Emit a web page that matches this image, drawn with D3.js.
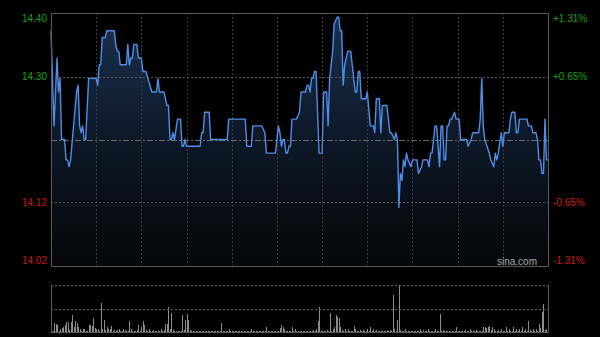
<!DOCTYPE html>
<html>
<head>
	<meta charset="utf-8">
	<title>Intraday</title>
	<script type="text/javascript" src="https://cdn.jsdelivr.net/npm/d3@7"></script>
	<style>
		body {
			margin: 0;
			background: #000;
		}
	</style>
</head>

<body>

	<div id="chart"></div>

	<script>

		// data: minutes since open (9:30, lunch removed) and price
		const times = [0,2,4,5,6,7,9,10,11,12,13,17,18,19,20,21,22,23,25,30,31,32,33,34,36,37,42,43,44,45,46,50,51,52,53,54,55,57,58,60,61,63,67,70,71,72,75,77,78,79,80,81,82,84,86,87,88,89,90,99,100,101,102,105,106,117,118,129,130,133,134,140,142,143,149,151,152,153,154,155,156,157,158,159,160,163,165,166,169,170,171,172,173,174,175,176,178,180,181,183,184,185,187,188,190,191,192,193,194,195,197,199,200,202,203,204,205,206,209,210,212,214,215,216,218,219,220,223,225,226,228,229,230,231,232,233,234,235,236,237,239,240,243,244,246,247,250,251,252,253,254,255,256,258,259,260,261,262,263,264,265,266,268,269,271,272,276,277,279,280,284,285,286,287,288,291,292,294,295,296,297,299,300,301,304,305,306,308,309,310,311,316,317,319,320,322,323,324,325,326,327,328,329,330];
		const prices = [14.37,14.23,14.33,14.28,14.30,14.21,14.21,14.18,14.18,14.17,14.18,14.28,14.29,14.23,14.22,14.23,14.21,14.21,14.30,14.30,14.29,14.32,14.32,14.36,14.36,14.37,14.37,14.35,14.34,14.34,14.32,14.32,14.35,14.32,14.33,14.33,14.35,14.35,14.33,14.33,14.31,14.31,14.28,14.28,14.30,14.28,14.28,14.26,14.26,14.21,14.21,14.22,14.21,14.24,14.24,14.20,14.20,14.21,14.20,14.20,14.22,14.22,14.25,14.25,14.21,14.21,14.24,14.24,14.20,14.20,14.23,14.23,14.22,14.19,14.19,14.23,14.22,14.20,14.21,14.21,14.19,14.19,14.20,14.20,14.24,14.24,14.25,14.28,14.28,14.29,14.29,14.28,14.30,14.30,14.31,14.31,14.19,14.19,14.28,14.28,14.23,14.30,14.34,14.38,14.39,14.39,14.37,14.37,14.29,14.32,14.34,14.34,14.32,14.28,14.28,14.31,14.31,14.27,14.27,14.28,14.23,14.23,14.22,14.27,14.27,14.22,14.26,14.26,14.22,14.22,14.21,14.22,14.21,14.11,14.16,14.15,14.18,14.17,14.19,14.18,14.17,14.18,14.18,14.16,14.17,14.18,14.18,14.17,14.19,14.19,14.21,14.23,14.23,14.17,14.23,14.23,14.18,14.18,14.23,14.23,14.24,14.24,14.25,14.24,14.24,14.21,14.21,14.20,14.21,14.22,14.22,14.24,14.30,14.23,14.21,14.19,14.18,14.17,14.19,14.18,14.19,14.22,14.20,14.22,14.22,14.24,14.25,14.25,14.22,14.22,14.24,14.24,14.23,14.23,14.22,14.22,14.21,14.18,14.18,14.16,14.16,14.24,14.18,14.18];

		// volume per minute, 0..330
		const volume = [
			137, 12, 87, 80, 70, 12, 27, 37, 53, 70,
			103, 103, 20, 103, 167, 47, 110, 87, 47, 33,
			15, 27, 33, 15, 15, 70, 70, 60, 137, 37,
			27, 27, 15, 287, 33, 120, 20, 47, 33, 27,
			60, 15, 20, 12, 20, 27, 13, 12, 33, 12,
			20, 12, 110, 33, 12, 13, 12, 20, 70, 15,
			47, 110, 70, 20, 13, 27, 12, 13, 20, 12,
			13, 12, 13, 27, 12, 20, 80, 80, 247, 27,
			193, 20, 12, 13, 12, 12, 13, 170, 20, 120,
			177, 120, 20, 10, 12, 10, 8, 10, 12, 10,
			10, 12, 10, 8, 10, 12, 10, 10, 12, 10,
			8, 10, 12, 93, 10, 12, 10, 8, 33, 10,
			12, 10, 8, 10, 12, 10, 10, 12, 10, 8,
			10, 12, 10, 27, 10, 12, 10, 8, 10, 12,
			10, 10, 12, 53, 10, 12, 10, 8, 10, 12,
			10, 12, 37, 70, 53, 27, 10, 12, 10, 8,
			53, 12, 27, 10, 12, 10, 13, 10, 12, 10,
			8, 10, 13, 10, 20, 12, 27, 110, 247, 12,
			13, 10, 12, 20, 12, 193, 12, 27, 47, 170,
			147, 137, 47, 20, 12, 27, 12, 33, 10, 12,
			10, 60, 27, 12, 10, 20, 10, 20, 10, 12,
			27, 10, 47, 12, 27, 10, 20, 10, 12, 10,
			13, 10, 12, 20, 10, 20, 15, 370, 27, 15,
			120, 470, 20, 12, 10, 33, 10, 12, 13, 10,
			12, 10, 13, 10, 12, 33, 10, 20, 10, 12,
			27, 10, 12, 13, 10, 33, 10, 12, 180, 10,
			20, 10, 12, 10, 12, 13, 10, 12, 10, 47,
			10, 12, 13, 10, 12, 20, 10, 12, 33, 10,
			12, 10, 20, 10, 12, 10, 13, 47, 53, 37,
			47, 60, 20, 53, 27, 12, 10, 20, 10, 27,
			12, 10, 47, 12, 27, 10, 12, 53, 10, 27,
			12, 33, 10, 47, 12, 27, 12, 113, 20, 10,
			27, 12, 27, 15, 80, 37, 203, 280, 20, 27,
			15
		];

		const prevClose = 14.21;
		const tickPct = [0.0131, 0.0065, -0.0065, -0.0131];
		const priceLabels = ["14.40", "14.30", "14.12", "14.02"];
		const pctLabels = ["+1.31%", "+0.65%", "-0.65%", "-1.31%"];
		const gridMinutes = [30, 60, 90, 120, 150, 180, 210, 240, 270, 300];

		const width = 600;
		const height = 337;
		const pLeft = 51, pRight = 548;
		const pTop = 13, pBottom = 266;
		const vTop = 285, vBottom = 332;

		const svg = d3.select("#chart")
			.append("svg")
			.attr("width", width)
			.attr("height", height)
			.style("display", "block")
			.attr("font-family", "Liberation Sans, Arial, sans-serif")
			.attr("font-size", 10);

		svg.append("rect").attr("width", width).attr("height", height).attr("fill", "#000");

		const x = d3.scaleLinear().domain([0, 330]).range([pLeft, pRight]);
		const y = d3.scaleLinear()
			.domain([prevClose * (1 - 0.0131), prevClose * (1 + 0.0131)])
			.range([pBottom, pTop]);
		const yv = d3.scaleLinear().domain([0, d3.max(volume)]).range([vBottom, vTop]);

		// area gradient
		const grad = svg.append("defs").append("linearGradient")
			.attr("id", "fillGrad")
			.attr("gradientUnits", "userSpaceOnUse")
			.attr("x1", 0).attr("x2", 0).attr("y1", pTop).attr("y2", pBottom);
		grad.append("stop").attr("offset", 0).attr("stop-color", "#1a3150");
		grad.append("stop").attr("offset", 0.5).attr("stop-color", "#0d1828");
		grad.append("stop").attr("offset", 1).attr("stop-color", "#050608");

		const pts = times.map((t, i) => [t, prices[i]]);

		svg.append("path")
			.datum(pts)
			.attr("fill", "url(#fillGrad)")
			.attr("d", d3.area().x(d => x(d[0])).y0(pBottom).y1(d => y(d[1])));

		// grid
		const grid = svg.append("g").attr("shape-rendering", "crispEdges");
		grid.selectAll(".vg")
			.data(gridMinutes)
			.join("line")
			.attr("x1", d => Math.round(x(d)) + 0.5).attr("x2", d => Math.round(x(d)) + 0.5)
			.attr("y1", pTop).attr("y2", pBottom)
			.attr("stroke", "#3c3c3c")
			.attr("stroke-dasharray", "2,2");

		grid.selectAll(".hg")
			.data([tickPct[1], tickPct[2]])
			.join("line")
			.attr("x1", pLeft).attr("x2", pRight)
			.attr("y1", d => Math.round(y(prevClose * (1 + d))) + 0.5)
			.attr("y2", d => Math.round(y(prevClose * (1 + d))) + 0.5)
			.attr("stroke", "#555")
			.attr("stroke-dasharray", "2,2");

		grid.append("line")
			.attr("x1", pLeft).attr("x2", pRight)
			.attr("y1", Math.round(y(prevClose)) + 0.5).attr("y2", Math.round(y(prevClose)) + 0.5)
			.attr("stroke", "#6a6a6a")
			.attr("stroke-dasharray", "6,2,2,2");

		// price line
		svg.append("path")
			.datum(pts)
			.attr("fill", "none")
			.attr("stroke", "#4f8ee6")
			.attr("stroke-width", 1.4)
			.attr("stroke-linejoin", "round")
			.attr("d", d3.line().x(d => x(d[0])).y(d => y(d[1])));

		// frame
		svg.append("rect")
			.attr("x", pLeft + 0.5).attr("y", pTop + 0.5)
			.attr("width", pRight - pLeft).attr("height", pBottom - pTop)
			.attr("fill", "none")
			.attr("stroke", "#5a5a5a")
			.attr("shape-rendering", "crispEdges");

		// labels
		const dy = [0.35 + 0.55, 0.35, 0.35, 0.35 - 0.6];
		svg.selectAll(".pl")
			.data(tickPct)
			.join("text")
			.attr("x", 47)
			.attr("y", d => y(prevClose * (1 + d)))
			.attr("dy", (d, i) => dy[i] + "em")
			.attr("text-anchor", "end")
			.attr("fill", d => d > 0 ? "#16a016" : "#d01818")
			.text((d, i) => priceLabels[i]);

		svg.selectAll(".rl")
			.data(tickPct)
			.join("text")
			.attr("x", 553)
			.attr("y", d => y(prevClose * (1 + d)))
			.attr("dy", (d, i) => dy[i] + "em")
			.attr("fill", d => d > 0 ? "#16a016" : "#d01818")
			.text((d, i) => pctLabels[i]);

		svg.append("text")
			.attr("x", 537).attr("y", 264.5)
			.attr("text-anchor", "end")
			.attr("fill", "#a8a8a8")
			.text("sina.com");

		// volume panel
		const vp = svg.append("g").attr("shape-rendering", "crispEdges");
		vp.selectAll("rect")
			.data(volume)
			.join("rect")
			.attr("x", (d, i) => Math.round(x(i)))
			.attr("width", 1)
			.attr("y", d => yv(d))
			.attr("height", d => vBottom - yv(d))
			.attr("fill", "#8c8c8c");

		vp.selectAll(".vl")
			.data([vTop, (vTop + vBottom) / 2])
			.join("line")
			.attr("x1", pLeft).attr("x2", pRight)
			.attr("y1", d => Math.round(d) + 0.5).attr("y2", d => Math.round(d) + 0.5)
			.attr("stroke", "#606060")
			.attr("stroke-dasharray", "2,2");

		vp.append("path")
			.attr("d", `M${pLeft + 0.5},${vTop}V${vBottom + 0.5}H${pRight + 0.5}V${vTop}`)
			.attr("fill", "none")
			.attr("stroke", "#5a5a5a");

	</script>

</body>

</html>
